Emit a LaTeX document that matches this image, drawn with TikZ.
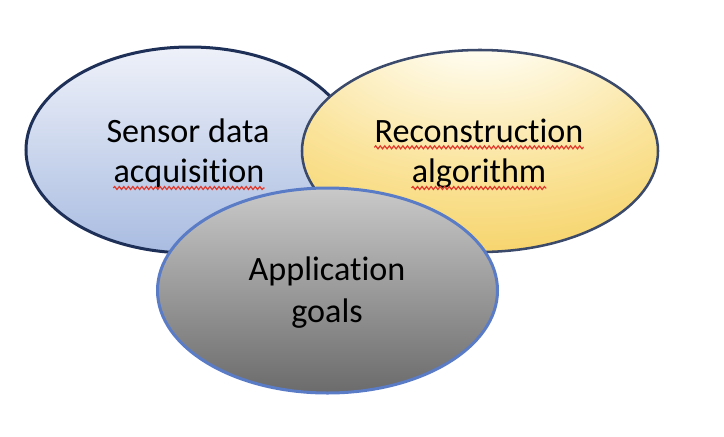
\documentclass[tikz,border=0pt]{standalone}
\usepackage{fontspec}
\setmainfont{Carlito}[Ligatures=NoCommon]
\usetikzlibrary{shapes.geometric,decorations.pathmorphing}
\definecolor{navy}{HTML}{1F3058}
\definecolor{slate}{HTML}{3B4A6B}
\definecolor{bluetop}{HTML}{EEF1F9}
\definecolor{bluebot}{HTML}{A9BCE1}
\definecolor{goldlight}{HTML}{FFFCEE}
\definecolor{goldmid}{HTML}{FAE39A}
\definecolor{gold}{HTML}{F5CE58}
\definecolor{graytop}{HTML}{C9C9C9}
\definecolor{graybot}{HTML}{6B6B6B}
\definecolor{rimblue}{HTML}{5A7BC6}
\definecolor{spellred}{HTML}{E0382B}
\pgfdeclareradialshading{glow}{\pgfpoint{0bp}{35bp}}{%
  color(0bp)=(goldlight); color(8bp)=(goldlight);
  color(30bp)=(goldmid); color(52bp)=(gold); color(100bp)=(gold)}
\tikzset{
  bubble/.style={ellipse, inner sep=0pt, line width=2.25pt},
  word/.style  ={font=\fontsize{25.6}{30}\selectfont, inner sep=0pt, anchor=base},
  spell/.style ={spellred, line width=0.9pt, decorate,
                 decoration={snake, amplitude=1.1pt, segment length=3.4pt}},
}

\begin{document}
\begin{tikzpicture}[x=0.75pt,y=-0.75pt]
  \useasboundingbox (0,0) rectangle (724,436);

  % ellipses
  \node[bubble, draw=navy, top color=bluetop, bottom color=bluebot,
        minimum width=246pt, minimum height=154.5pt] (sensor) at (190,150) {};
  \node[bubble, draw=slate, line width=1.9pt, shading=glow,
        minimum width=267pt, minimum height=151.5pt] (recon) at (480,151) {};
  \node[bubble, draw=rimblue, top color=graytop, bottom color=graybot,
        minimum width=255pt, minimum height=153.75pt] (app) at (327.5,290.5) {};

  % texts
  \node[word] (sensorA) at (188,142) {Sensor data};
  \node[word] (sensorB) at (189,182) {acquisition};
  \node[word] (reconA) at (479,142) {Reconstruction};
  \node[word] (reconB) at (479,182) {algorithm};
  \node[word] (appA) at (327,280) {Application};
  \node[word] (appB) at (327,322) {goals};

  % spelling marks
  \draw[spell] ([yshift=-4.5pt]sensorB.base west) -- ([yshift=-4.5pt]sensorB.base east);
  \draw[spell] ([yshift=-4pt]reconA.base west) -- ([yshift=-4pt]reconA.base east);
  \draw[spell] ([yshift=-4.5pt]reconB.base west) -- ([yshift=-4.5pt]reconB.base east);
\end{tikzpicture}
\end{document}
